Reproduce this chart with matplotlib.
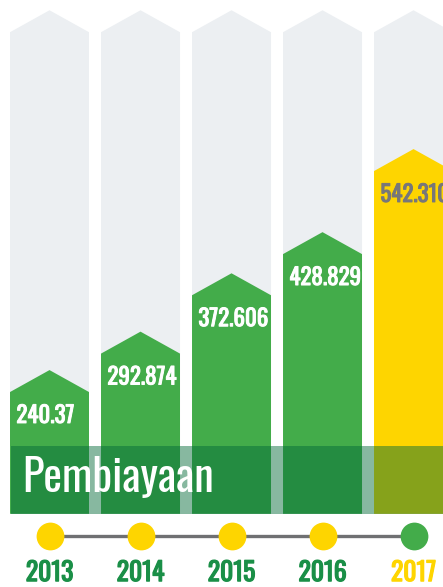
import matplotlib
matplotlib.use("Agg")
import matplotlib.pyplot as plt
import matplotlib.patheffects as pe
from matplotlib.patches import Polygon, Rectangle

# data
years = ["2013", "2014", "2015", "2016", "2017"]
values = [240.37, 292.874, 372.606, 428.829, 542.310]
labels = ["240.37", "292.874", "372.606", "428.829", "542.310"]
title = "Pembiayaan"

# colours
GREY_BG = "#eceff2"
GREEN = "#43ac4a"
YELLOW = "#fed500"
DARK = "#046b39"
LABEL_GREY = "#77777a"
YEAR_GREEN = "#1a8f47"
LINE_GREY = "#6f7072"

plt.rcParams["font.family"] = ["Oswald", "Roboto Condensed", "DejaVu Sans"]

fig = plt.figure(figsize=(4.43, 5.87), dpi=100)
ax = fig.add_axes([0, 0, 1, 1])
ax.set_xlim(-0.544, 4.324)
ax.set_ylim(-56, 746)
ax.axis("off")

hw = 0.434       # half column width
base = 44        # bottom of the bars (hidden by the band)
notch = 30       # height of the arrow tip
col_top = 732
band_top = 137


def pentagon(xc, top, color, z):
    pts = [(xc - hw, base), (xc - hw, top - notch), (xc, top),
           (xc + hw, top - notch), (xc + hw, base)]
    ax.add_patch(Polygon(pts, closed=True, fc=color, ec="none", zorder=z))


def heavy(color, w=0.7):
    # the installed Oswald has one weight, so thicken it with a stroke
    return [pe.withStroke(linewidth=w, foreground=color)]


for i, (v, lab) in enumerate(zip(values, labels)):
    last = i == len(values) - 1
    col = LABEL_GREY if last else "white"
    pentagon(i, col_top, GREY_BG, 1)
    pentagon(i, v, YELLOW if last else GREEN, 2)
    ax.text(i - hw + 0.07, v - 62, lab, ha="left", va="center",
            fontsize=16.5, color=col, zorder=3, path_effects=heavy(col))

# translucent band over the bar bottoms
ax.add_patch(Rectangle((-hw + 0.01, base), 10, band_top - base,
                       fc=DARK, alpha=0.48, ec="none", zorder=4))
ax.text(-0.30, 74, title, ha="left", va="baseline", fontsize=32,
        color="white", zorder=5)

# timeline
xs = list(range(len(years)))
ax.plot(xs, [14] * len(xs), color=LINE_GREY, lw=2.4, zorder=5)
ax.scatter(xs[:-1], [14] * (len(xs) - 1), s=20 ** 2, color=YELLOW,
           zorder=6, linewidths=0)
ax.scatter(xs[-1:], [14], s=20 ** 2, color=GREEN, zorder=6, linewidths=0)
for i, y in enumerate(years):
    col = YELLOW if i == len(years) - 1 else YEAR_GREEN
    ax.text(i, -37, y, ha="center", va="center", fontsize=18.5,
            color=col, zorder=6, path_effects=heavy(col, 0.9))

fig.savefig("out.png", dpi=100)
